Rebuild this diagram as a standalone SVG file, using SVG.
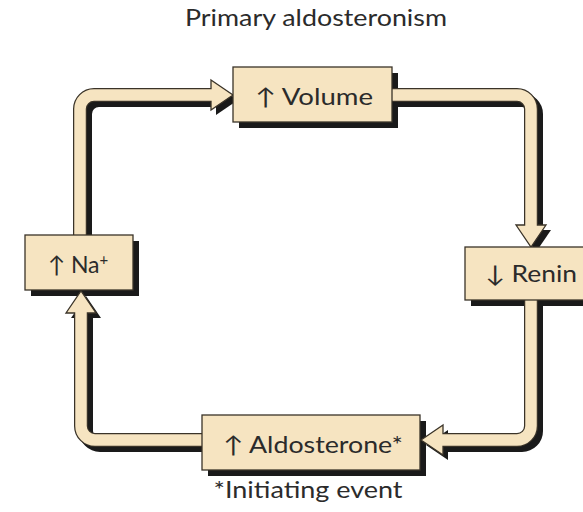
<svg xmlns="http://www.w3.org/2000/svg" width="583" height="512" viewBox="0 0 583 512">
<style>
.sh{fill:none;stroke:#1a1a1a;stroke-width:14}
.shh{fill:#1a1a1a}
.out{fill:none;stroke:#3a3328;stroke-width:14}
.in{fill:none;stroke:#f6e4c1;stroke-width:11.5}
.head{fill:#f6e4c1;stroke:#3a3328;stroke-width:1.3;stroke-linejoin:miter}
.box{fill:#f6e4c1;stroke:#3a3328;stroke-width:1.3}
.bsh{fill:#1a1a1a}
.t{font-family:Lato,"Open Sans","DejaVu Sans",sans-serif;fill:#2b2b2b;font-size:23px;text-anchor:middle}
</style>
<rect width="583" height="512" fill="#ffffff"/>
<text class="t" x="316" y="26" font-size="21" textLength="262" lengthAdjust="spacingAndGlyphs">Primary aldosteronism</text>

<g id="box-shadows">
<rect class="bsh" x="239" y="73" width="159" height="55"/>
<rect class="bsh" x="471" y="253" width="125" height="53"/>
<rect class="bsh" x="31" y="241" width="108" height="55"/>
<rect class="bsh" x="208" y="421" width="218" height="55"/>
</g>

<g id="connectors">
<g transform="translate(5,5)">
<path class="sh" d="M80,236 V109 A14,14 0 0 1 94,95 H212"/>
<polygon class="shh" points="211,80 233,95 211,110"/>
<path class="sh" d="M392,95 H517 A14,14 0 0 1 531,109 V226"/>
<polygon class="shh" points="516,225 531,247 546,225"/>
<path class="sh" d="M531,300 V426 A14,14 0 0 1 517,440 H443"/>
<polygon class="shh" points="443,425 421,440 443,455"/>
<path class="sh" d="M202,440 H95 A14,14 0 0 1 81,426 V313"/>
<polygon class="shh" points="66,313 81,291 96,313"/>
</g>
<path class="out" d="M80,236 V109 A14,14 0 0 1 94,95 H212"/>
<polygon class="head" points="211,80 233,95 211,110"/>
<path class="in" d="M80,236 V109 A14,14 0 0 1 94,95 H214"/>
<path class="out" d="M392,95 H517 A14,14 0 0 1 531,109 V226"/>
<polygon class="head" points="516,225 531,247 546,225"/>
<path class="in" d="M392,95 H517 A14,14 0 0 1 531,109 V227"/>
<path class="out" d="M531,300 V426 A14,14 0 0 1 517,440 H443"/>
<polygon class="head" points="443,425 421,440 443,455"/>
<path class="in" d="M531,300 V426 A14,14 0 0 1 517,440 H441"/>
<path class="out" d="M202,440 H95 A14,14 0 0 1 81,426 V313"/>
<polygon class="head" points="66,313 81,291 96,313"/>
<path class="in" d="M202,440 H95 A14,14 0 0 1 81,426 V311"/>
</g>

<g id="volume">
<rect class="box" x="233" y="67" width="159" height="55"/>
<text class="t" x="314" y="105" textLength="118" lengthAdjust="spacingAndGlyphs">↑ Volume</text>
</g>
<g id="renin">
<rect class="box" x="465" y="247" width="125" height="53"/>
<text class="t" x="531" y="282" textLength="92" lengthAdjust="spacingAndGlyphs">↓ Renin</text>
</g>
<g id="na">
<rect class="box" x="25" y="235" width="108" height="55"/>
<text class="t" x="78" y="273" text-anchor="middle">↑ Na<tspan font-size="15" dy="-8">+</tspan></text>
</g>
<g id="aldosterone">
<rect class="box" x="202" y="415" width="218" height="55"/>
<text class="t" x="313" y="453" textLength="180" lengthAdjust="spacingAndGlyphs">↑ Aldosterone*</text>
</g>
<text class="t" x="308" y="498" textLength="189" lengthAdjust="spacingAndGlyphs">*Initiating event</text>
</svg>
